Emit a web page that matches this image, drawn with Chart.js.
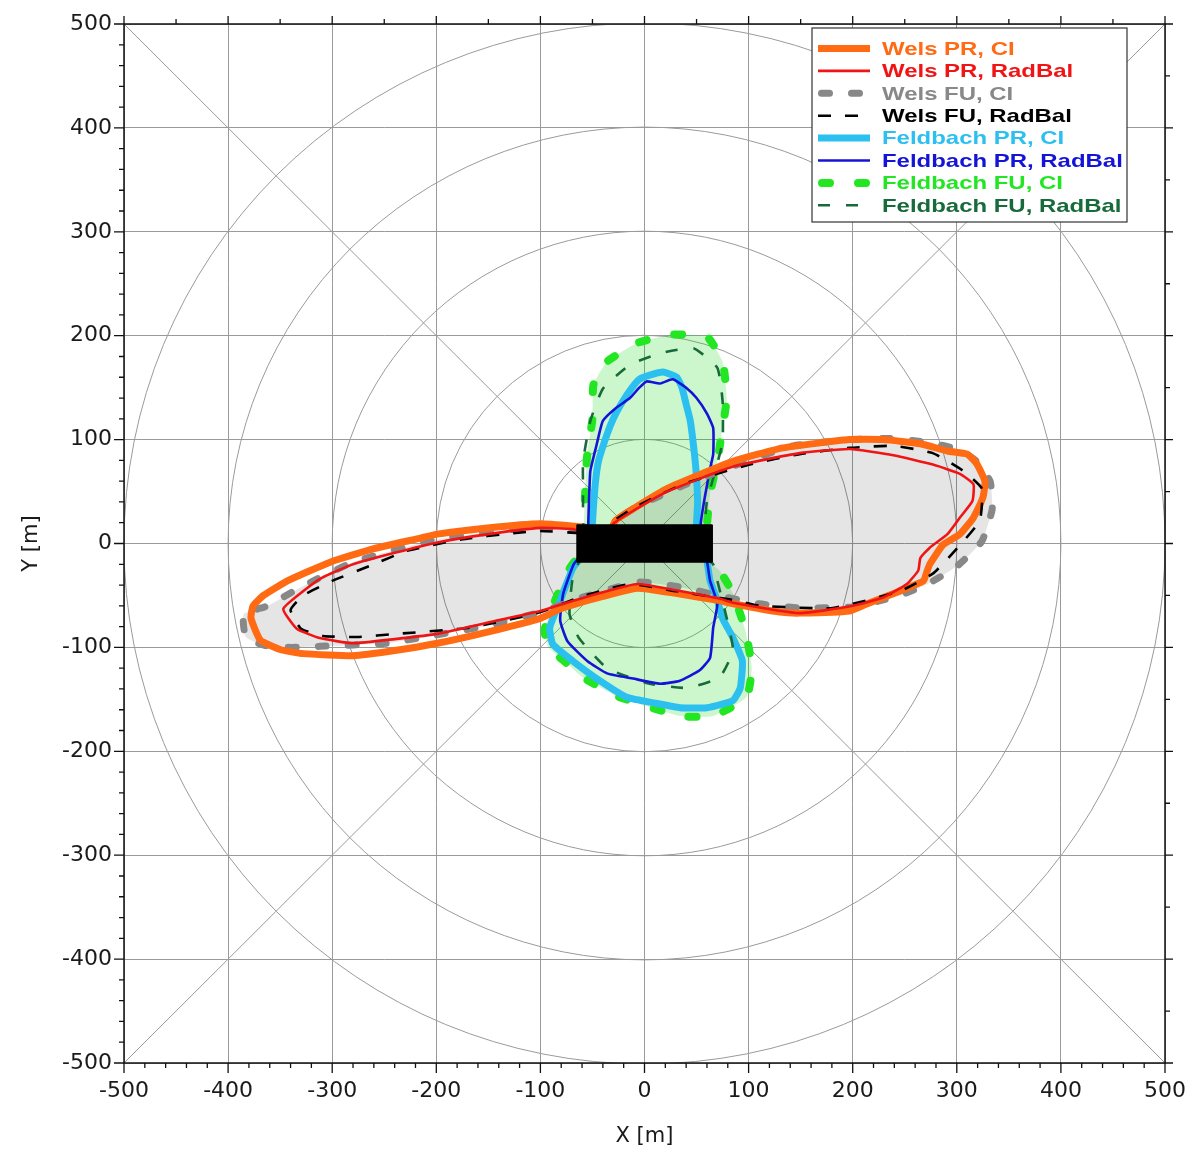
<!DOCTYPE html>
<html>
<head>
<meta charset="utf-8">
<title>Wels / Feldbach</title>
<script src="https://cdn.jsdelivr.net/npm/chart.js@4.4.1/dist/chart.umd.min.js"></script>
<style>
  html, body { margin: 0; padding: 0; background: #fff; }
  #wrap { width: 1187px; height: 1150px; position: relative; }
</style>
</head>
<body>
<div id="wrap"><canvas id="chart"></canvas></div>
<script>
// contours, [x, y] in metres
const welsPrCi = [[-60,16],[-100,19],[-151,15],[-199,9],[-216,5],[-260,-5],[-302,-18],[-343,-36],[-366,-50],[-376,-60],[-378,-72],[-369,-93],[-350,-102],[-328,-106],[-280,-108],[-240,-103],[-199,-96],[-150,-85],[-100,-72],[-81,-63],[-40,-51],[-7,-43],[30,-48],[72,-55],[85,-58],[130,-66],[149,-67],[197,-65],[214,-58],[245,-46],[268,-36],[271,-28],[274,-20],[287,-1],[303,9],[316,25],[325,44],[327,60],[319,77],[310,86],[291,89],[265,96],[229,100],[197,100],[133,92],[85,79],[22,53],[-10,34],[-28,22],[-35,8],[-55,8],[-60,16]];
const welsPrRadBal = [[-62,12],[-69,14],[-100,15],[-150,9],[-199,1],[-240,-9],[-280,-20],[-310,-33],[-328,-46],[-347,-63],[-334,-82],[-312,-91],[-280,-96],[-240,-92],[-199,-87],[-150,-76],[-100,-65],[-81,-59],[-40,-47],[-7,-39],[30,-45],[72,-53],[85,-57],[149,-67],[200,-60],[229,-52],[252,-39],[263,-26],[265,-14],[274,-4],[291,9],[303,25],[315,41],[316,57],[303,67],[277,76],[239,85],[197,91],[149,87],[85,74],[22,50],[-10,32],[-30,19],[-35,8],[-55,8],[-62,12]];
const welsFuCi = [[-62,12],[-100,16],[-200,4],[-280,-18],[-330,-42],[-362,-60],[-385,-68],[-383,-90],[-365,-98],[-340,-100],[-312,-99],[-248,-96],[-200,-88],[-150,-79],[-100,-66],[-60,-52],[-5,-37],[40,-43],[70,-50],[110,-58],[150,-62],[200,-61],[245,-50],[272,-39],[300,-22],[324,2],[334,33],[332,60],[318,80],[303,90],[274,97],[236,101],[197,100],[143,94],[100,80],[40,57],[-10,34],[-30,20],[-35,8],[-55,8],[-62,12]];
const welsFuRadBal = [[-62,10],[-100,12],[-126,10],[-176,4],[-228,-7],[-260,-20],[-300,-36],[-328,-50],[-340,-64],[-330,-82],[-309,-89],[-276,-90],[-238,-87],[-168,-81],[-103,-67],[-60,-51],[-14,-39],[31,-46],[89,-55],[111,-60],[181,-62],[245,-46],[277,-29],[300,-5],[322,22],[324,53],[306,70],[277,87],[239,94],[197,92],[149,86],[101,76],[37,57],[-11,34],[-30,21],[-35,8],[-55,8],[-62,10]];
const feldbachPrCi = [[-50,10],[-50,20],[-47,60],[-44,80],[-36,105],[-30,120],[-22,135],[-12,150],[-5,158],[5,162],[18,165],[31,160],[36,150],[40,134],[44,118],[48,86],[50,63],[51,40],[50,18],[52,5],[56,-8],[60,-17],[63,-36],[70,-55],[75,-72],[85,-91],[94,-113],[92,-139],[85,-151],[60,-158],[34,-158],[12,-154],[-17,-148],[-43,-132],[-69,-113],[-88,-97],[-91,-81],[-81,-55],[-69,-24],[-60,-12],[-52,0],[-50,10]];
const feldbachPrRadBal = [[-54,8],[-54,20],[-53,50],[-52,70],[-46,95],[-40,118],[-28,130],[-14,140],[-5,150],[2,156],[15,154],[27,158],[40,150],[50,140],[60,125],[66,111],[66,86],[63,72],[58,45],[54,19],[55,-5],[60,-17],[63,-36],[70,-58],[66,-81],[63,-110],[53,-122],[34,-132],[15,-135],[-11,-130],[-36,-125],[-55,-113],[-74,-94],[-81,-74],[-78,-48],[-68,-20],[-60,-10],[-54,8]];
const feldbachFuCi = [[-55,8],[-58,18],[-57,50],[-55,86],[-50,120],[-49,153],[-36,175],[-7,193],[25,201],[60,199],[75,175],[79,140],[74,105],[70,79],[63,48],[60,18],[58,-10],[63,-19],[72,-26],[85,-48],[97,-84],[103,-120],[98,-148],[66,-166],[34,-166],[-26,-147],[-59,-129],[-75,-115],[-92,-100],[-96,-83],[-86,-55],[-72,-24],[-62,-10],[-55,8]];
const feldbachFuRadBal = [[-57,8],[-59,20],[-59,50],[-59,79],[-52,118],[-40,149],[-14,172],[15,183],[47,188],[70,169],[75,137],[75,98],[68,70],[60,41],[58,19],[56,-10],[66,-20],[70,-36],[79,-72],[85,-103],[72,-129],[41,-139],[5,-135],[-36,-120],[-63,-91],[-72,-68],[-69,-33],[-62,-15],[-57,8]];
// building
const building = [[-65,18],[65,18],[65,-18],[-65,-18],[-65,18]];

// axes
const axisMin = -500, axisMax = 500, majorStep = 100;
const ringRadii = [100, 200, 300, 400, 500];

const toXY = pts => pts.map(p => ({x: p[0], y: p[1]}));

const gridColor = '#9a9a9a';

// circles + diagonals behind the contours
const polarGrid = {
  id: 'polarGrid',
  beforeDatasetsDraw(chart) {
    const {ctx, chartArea: a, scales: {x, y}} = chart;
    const cx = x.getPixelForValue(0), cy = y.getPixelForValue(0);
    ctx.save();
    ctx.beginPath();
    ctx.rect(a.left, a.top, a.right - a.left, a.bottom - a.top);
    ctx.clip();
    ctx.strokeStyle = gridColor;
    ctx.lineWidth = 1;
    ringRadii.forEach(r => {
      const rp = x.getPixelForValue(r) - cx;
      ctx.beginPath();
      ctx.arc(cx, cy, rp, 0, Math.PI * 2);
      ctx.stroke();
    });
    ctx.beginPath();
    ctx.moveTo(x.getPixelForValue(axisMin), y.getPixelForValue(axisMin));
    ctx.lineTo(x.getPixelForValue(axisMax), y.getPixelForValue(axisMax));
    ctx.moveTo(x.getPixelForValue(axisMin), y.getPixelForValue(axisMax));
    ctx.lineTo(x.getPixelForValue(axisMax), y.getPixelForValue(axisMin));
    ctx.stroke();
    ctx.restore();
  }
};

// frame and minor ticks on all four sides
const axisFrame = {
  id: 'axisFrame',
  afterDraw(chart) {
    const {ctx, chartArea: a, scales: {x, y}} = chart;
    ctx.save();
    ctx.strokeStyle = '#111';
    ctx.lineWidth = 1.5;
    ctx.strokeRect(a.left, a.top, a.right - a.left, a.bottom - a.top);
    ctx.lineWidth = 1.3;
    ctx.beginPath();
    for (let v = axisMin; v <= axisMax; v += 20) {
      const len = v % majorStep === 0 ? 10 : 5;
      const px = x.getPixelForValue(v), py = y.getPixelForValue(v);
      ctx.moveTo(a.left - len, py); ctx.lineTo(a.left, py);
      ctx.moveTo(px, a.bottom); ctx.lineTo(px, a.bottom + len);
    }
    for (let v = axisMin; v <= axisMax; v += 50) {
      const len = v % majorStep === 0 ? 8 : 5;
      const px = x.getPixelForValue(v), py = y.getPixelForValue(v);
      ctx.moveTo(px, a.top); ctx.lineTo(px, a.top - len);
      ctx.moveTo(a.right, py); ctx.lineTo(a.right + len, py);
    }
    ctx.stroke();
    ctx.restore();
  }
};

// boxed legend in the upper right corner
const boxLegend = {
  id: 'boxLegend',
  afterDraw(chart) {
    const ctx = chart.ctx;
    const items = chart.data.datasets.filter(d => d.inLegend);
    const left = 812, top = 28, w = 315, h = 194, row = 22.4;
    ctx.save();
    ctx.fillStyle = '#fff';
    ctx.fillRect(left, top, w, h);
    ctx.strokeStyle = '#333';
    ctx.lineWidth = 1.2;
    ctx.strokeRect(left, top, w, h);
    items.forEach((d, i) => {
      const yy = top + 20.5 + i * row;
      ctx.save();
      ctx.strokeStyle = d.borderColor;
      ctx.lineWidth = d.borderWidth;
      ctx.lineCap = d.borderCapStyle || 'butt';
      ctx.setLineDash(d.borderDash || []);
      ctx.beginPath();
      const pad = ctx.lineCap === 'round' ? d.borderWidth / 2 : 0;
      ctx.moveTo(left + 6 + pad, yy);
      ctx.lineTo(left + 58 - pad, yy);
      ctx.stroke();
      ctx.restore();
      ctx.save();
      ctx.fillStyle = d.borderColor;
      ctx.font = 'bold 19px "Liberation Sans", Arial, sans-serif';
      ctx.textBaseline = 'middle';
      ctx.translate(left + 70, yy + 1);
      ctx.scale(1.26, 1);
      ctx.fillText(d.label, 0, 0);
      ctx.restore();
    });
    ctx.restore();
  }
};

const thin = 2.6, thick = 7;

new Chart(document.getElementById('chart'), {
  type: 'scatter',
  data: {
    datasets: [
      { label: 'Wels PR, CI', data: toXY(welsPrCi), borderColor: '#ff6a13', borderWidth: thick, order: 3, inLegend: true },
      { label: 'Wels PR, RadBal', data: toXY(welsPrRadBal), borderColor: '#f01414', borderWidth: thin, order: 1, inLegend: true },
      { label: 'Wels FU, CI', data: toXY(welsFuCi), borderColor: '#888888', borderWidth: thick, borderDash: [8, 22], borderCapStyle: 'round', order: 4, inLegend: true },
      { label: 'Wels FU, RadBal', data: toXY(welsFuRadBal), borderColor: '#000000', borderWidth: thin, borderDash: [13, 14], order: 2, inLegend: true },
      { label: 'Feldbach PR, CI', data: toXY(feldbachPrCi), borderColor: '#2cc0f0', borderWidth: thick, order: 7, inLegend: true },
      { label: 'Feldbach PR, RadBal', data: toXY(feldbachPrRadBal), borderColor: '#1414d8', borderWidth: thin, order: 5, inLegend: true },
      { label: 'Feldbach FU, CI', data: toXY(feldbachFuCi), borderColor: '#22e622', borderWidth: 8, borderDash: [8, 28], borderCapStyle: 'round', order: 8, inLegend: true },
      { label: 'Feldbach FU, RadBal', data: toXY(feldbachFuRadBal), borderColor: '#176b3a', borderWidth: thin, borderDash: [12, 16], order: 6, inLegend: true },
      // area fills
      { label: 'Wels FU area', data: toXY(welsFuCi), borderWidth: 0, fill: 'shape', backgroundColor: 'rgba(0,0,0,0.1)', order: 20 },
      { label: 'Feldbach FU area', data: toXY(feldbachFuCi), borderWidth: 0, fill: 'shape', backgroundColor: 'rgba(0,210,0,0.2)', order: 21 },
      // building
      { label: 'Building', data: toXY(building), borderColor: '#000', borderWidth: 1, fill: 'shape', backgroundColor: '#000', tension: 0, order: 0 }
    ]
  },
  options: {
    responsive: true,
    maintainAspectRatio: false,
    animation: false,
    events: [],
    showLine: true,
    layout: { padding: { top: 24, right: 22, left: 0, bottom: 0 } },
    elements: {
      point: { radius: 0 },
      line: { tension: 0.15, borderJoinStyle: 'round', fill: false }
    },
    scales: {
      x: {
        type: 'linear', min: axisMin, max: axisMax,
        ticks: { stepSize: majorStep, autoSkip: false, maxRotation: 0, padding: 15, color: '#1a1a1a', font: { family: 'DejaVu Sans', size: 22 } },
        grid: { color: gridColor, lineWidth: 1, drawTicks: false },
        border: { display: false },
        title: { display: true, text: 'X [m]', color: '#1a1a1a', font: { family: 'DejaVu Sans', size: 21 }, padding: { bottom: 1 } },
        afterFit: s => { s.height = 87; s.paddingLeft = 0; s.paddingRight = 0; }
      },
      y: {
        type: 'linear', min: axisMin, max: axisMax,
        ticks: { stepSize: majorStep, autoSkip: false, padding: 12, color: '#1a1a1a', font: { family: 'DejaVu Sans', size: 22 } },
        grid: { color: gridColor, lineWidth: 1, drawTicks: false },
        border: { display: false },
        title: { display: true, text: 'Y [m]', color: '#1a1a1a', font: { family: 'DejaVu Sans', size: 21 }, padding: { top: 19 } },
        afterFit: s => { s.width = 124; s.paddingTop = 0; s.paddingBottom = 0; }
      }
    },
    plugins: {
      legend: { display: false },
      tooltip: { enabled: false }
    }
  },
  plugins: [polarGrid, axisFrame, boxLegend]
});
</script>
</body>
</html>
